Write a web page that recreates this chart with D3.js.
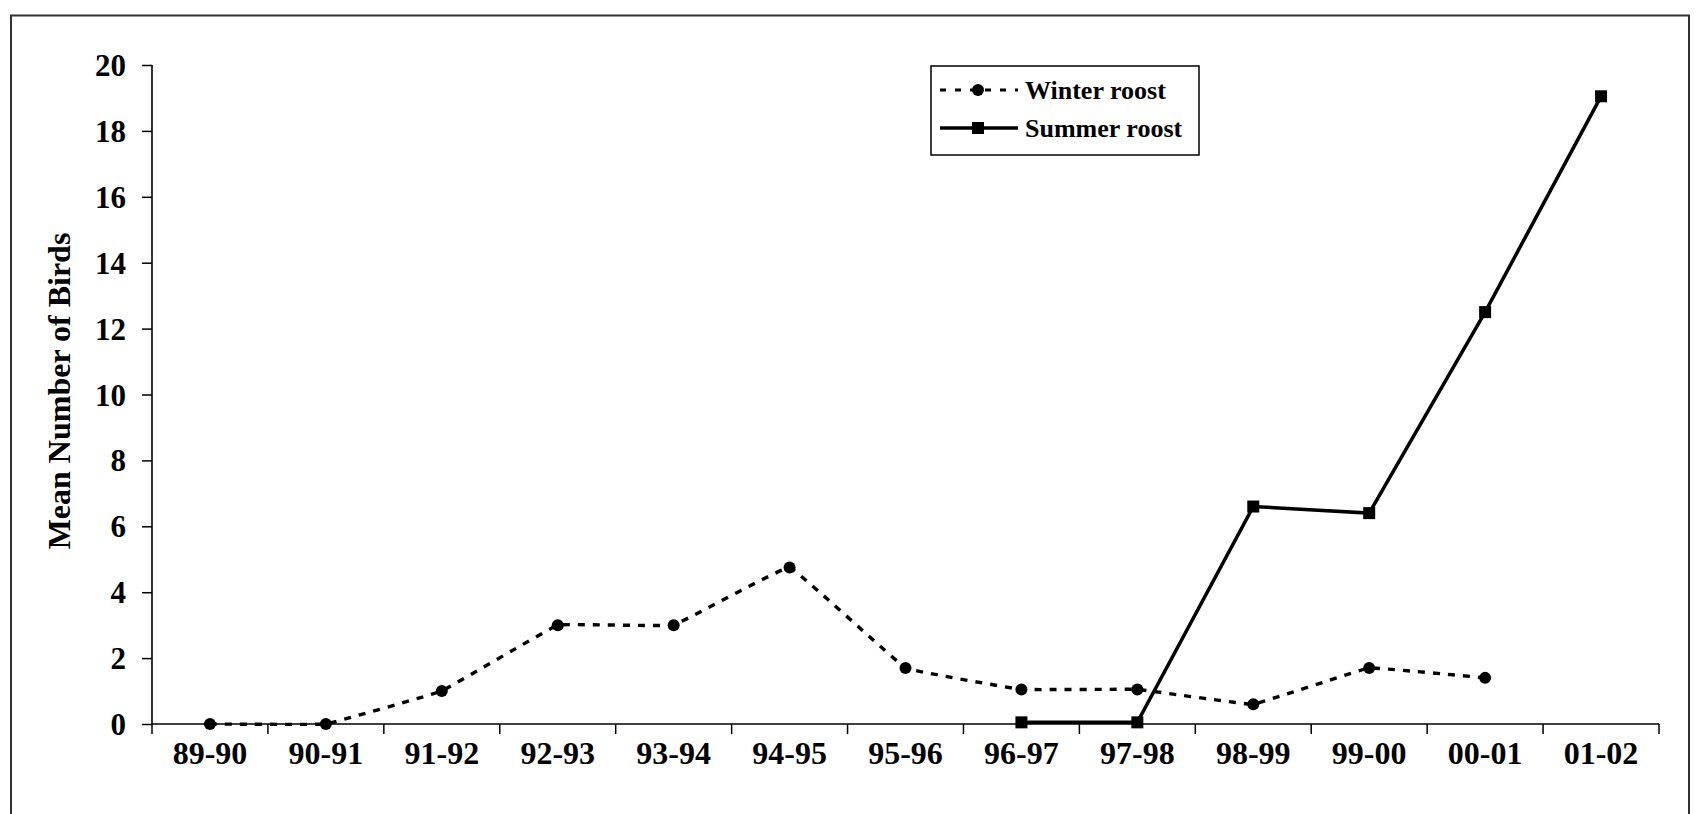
<!DOCTYPE html>
<html>
<head>
<meta charset="utf-8">
<script src="https://cdn.jsdelivr.net/npm/d3@7"></script>
<style>
  html, body { margin: 0; padding: 0; background: #fff; }
  svg { display: block; }
  text { font-family: "Liberation Serif", "Times New Roman", serif; font-weight: bold; fill: #000; }
</style>
</head>
<body>
<svg id="chart" width="1697" height="814"></svg>
<script>
const seasons = ["89-90","90-91","91-92","92-93","93-94","94-95","95-96","96-97","97-98","98-99","99-00","00-01","01-02"];
const winterRoost = [0, 0, 1, 3, 3, 4.75, 1.7, 1.05, 1.05, 0.6, 1.7, 1.4, null];
const summerRoost = [null, null, null, null, null, null, null, 0.05, 0.05, 6.6, 6.4, 12.5, 19.05];
const yTicks = [0, 2, 4, 6, 8, 10, 12, 14, 16, 18, 20];
const seriesNames = ["Winter roost", "Summer roost"];
const yTitle = "Mean Number of Birds";

(function () {
const svg = d3.select("#chart");
const mLeft = 152, mRight = 1659, mTop = 65, mBottom = 724;

// outer frame
svg.append("rect").attr("x", 11).attr("y", 15.5).attr("width", 1678).attr("height", 820)
  .attr("fill", "none").attr("stroke", "#333").attr("stroke-width", 2);

const x = d3.scaleBand().domain(seasons).range([mLeft, mRight]);
const y = d3.scaleLinear().domain([0, 20]).range([mBottom, mTop]);

// y axis
const yAxis = svg.append("g").attr("transform", `translate(${mLeft},0)`)
  .call(d3.axisLeft(y).tickValues(yTicks).tickSize(10).tickPadding(16).tickFormat(d3.format("d")));
yAxis.select(".domain").attr("stroke", "#000").attr("stroke-width", 1.6).attr("d", `M0,${mTop}V${mBottom}`);
yAxis.selectAll(".tick line").attr("stroke", "#000").attr("stroke-width", 1.5);
yAxis.selectAll(".tick text").style("font-size", "31px").attr("dy", "0.34em");

// x axis
const xAxis = svg.append("g").attr("transform", `translate(0,${mBottom})`)
  .call(d3.axisBottom(x).tickSize(0).tickPadding(34));
xAxis.select(".domain").attr("stroke", "#000").attr("stroke-width", 1.6).attr("d", `M${mLeft},0H${mRight}`);
xAxis.selectAll(".tick text").style("font-size", "32px").attr("dy", "0.2em");
const bounds = seasons.map(s => x(s)).concat([x.range()[1]]);
xAxis.selectAll(".bt").data(bounds).enter().append("line")
  .attr("x1", d => d).attr("x2", d => d).attr("y1", 0).attr("y2", 10)
  .attr("stroke", "#000").attr("stroke-width", 1.5);

// y title
svg.append("text")
  .attr("transform", `translate(70,391) rotate(-90)`)
  .attr("text-anchor", "middle")
  .style("font-size", "32px")
  .text(yTitle);

const cx = s => x(s) + x.bandwidth() / 2;

const wData = seasons.map((s, i) => ({s, v: winterRoost[i]})).filter(d => d.v !== null);
const sData = seasons.map((s, i) => ({s, v: summerRoost[i]})).filter(d => d.v !== null);

svg.append("path").datum(wData)
  .attr("d", d3.line().x(d => cx(d.s)).y(d => y(d.v)).curve(d3.curveCardinal.tension(0.85)))
  .attr("fill", "none").attr("stroke", "#000").attr("stroke-width", 3.4)
  .attr("stroke-dasharray", "7,8");

svg.selectAll(".wpt").data(wData).enter().append("circle")
  .attr("cx", d => cx(d.s)).attr("cy", d => y(d.v)).attr("r", 6).attr("fill", "#000");

svg.append("path").datum(sData)
  .attr("d", d3.line().x(d => cx(d.s)).y(d => y(d.v)))
  .attr("fill", "none").attr("stroke", "#000").attr("stroke-width", 3.5);

svg.selectAll(".spt").data(sData).enter().append("rect")
  .attr("x", d => cx(d.s) - 6).attr("y", d => y(d.v) - 6)
  .attr("width", 12).attr("height", 12).attr("fill", "#000");

// legend
const lg = svg.append("g");
lg.append("rect").attr("x", 931).attr("y", 66).attr("width", 268).attr("height", 89)
  .attr("fill", "#fff").attr("stroke", "#000").attr("stroke-width", 1.5);
const rows = [90, 128];
lg.append("line").attr("x1", 940).attr("x2", 1018).attr("y1", rows[0]).attr("y2", rows[0])
  .attr("stroke", "#000").attr("stroke-width", 3).attr("stroke-dasharray", "6,9");
lg.append("circle").attr("cx", 978).attr("cy", rows[0]).attr("r", 6).attr("fill", "#000");
lg.append("line").attr("x1", 940).attr("x2", 1018).attr("y1", rows[1]).attr("y2", rows[1])
  .attr("stroke", "#000").attr("stroke-width", 3.5);
lg.append("rect").attr("x", 972).attr("y", rows[1] - 6).attr("width", 12).attr("height", 12).attr("fill", "#000");
lg.selectAll(".lt").data(seriesNames).enter().append("text")
  .attr("x", 1025).attr("y", (d, i) => rows[i]).attr("dy", "0.35em")
  .style("font-size", "26px").text(d => d);
})();
</script>
</body>
</html>
